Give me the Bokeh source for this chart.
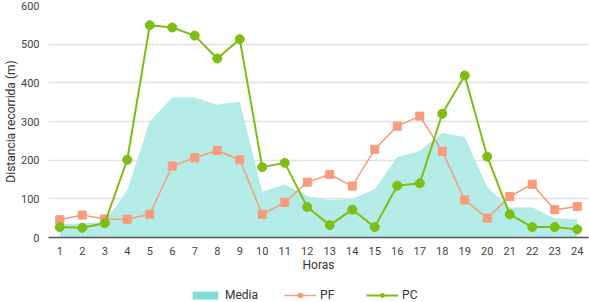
from bokeh.plotting import figure
from bokeh.models import ColumnDataSource, Legend, LegendItem, FixedTicker, Range1d
from bokeh.layouts import column
from bokeh.embed import file_html
from bokeh.resources import INLINE

horas = list(range(1, 25))
media = [35, 36, 40, 122, 300, 362, 362, 343, 352, 118, 138, 107, 97, 100, 125, 208, 224, 270, 260, 130, 77, 78, 49, 48]
pf = [46, 58, 48, 47, 60, 185, 206, 225, 201, 60, 91, 143, 163, 133, 228, 288, 314, 223, 97, 50, 106, 138, 72, 80]
pc = [27, 25, 37, 201, 549, 543, 522, 463, 513, 182, 193, 79, 32, 72, 27, 134, 140, 320, 419, 209, 60, 27, 27, 21]
y_ticks = [0, 100, 200, 300, 400, 500, 600]

src = ColumnDataSource(dict(x=horas, media=media, pf=pf, pc=pc, zero=[0] * len(horas)))

FONT = "Roboto"
AREA = "#b3ebe6"
PF_C = "#f99a7d"
PC_C = "#7dbd14"

p = figure(width=589, height=274, output_backend="svg", toolbar_location=None,
           x_range=Range1d(0.5, 24.5), y_range=Range1d(0, 600),
           min_border_left=20, min_border_right=1, min_border_top=5, min_border_bottom=0)
p.outline_line_color = None

p.varea(x="x", y1="zero", y2="media", source=src, fill_color=AREA)
p.line("x", "pf", source=src, line_color=PF_C, line_width=1.5)
p.scatter("x", "pf", source=src, marker="square", size=8, fill_color=PF_C, line_color=PF_C)
p.line("x", "pc", source=src, line_color=PC_C, line_width=2)
p.scatter("x", "pc", source=src, marker="circle", size=9, fill_color=PC_C, line_color=PC_C)

p.xaxis.ticker = FixedTicker(ticks=horas)
p.yaxis.ticker = FixedTicker(ticks=y_ticks)
p.xaxis.axis_label = "Horas"
p.yaxis.axis_label = "Distancia recorrida (m)"
for ax in (p.xaxis, p.yaxis):
    ax.axis_label_text_font = FONT
    ax.axis_label_text_font_style = "normal"
    ax.axis_label_text_font_size = "12px"
    ax.axis_label_text_color = "#333333"
    ax.major_label_text_font = FONT
    ax.major_label_text_font_size = "11px"
    ax.major_label_text_color = "#444444"
    ax.major_tick_line_color = None
    ax.minor_tick_line_color = None
p.yaxis.axis_line_color = None
p.xaxis.axis_line_color = "#555555"
p.xaxis.axis_line_width = 1.5
p.xaxis.major_label_standoff = 3
p.xaxis.axis_label_standoff = 0
p.yaxis.major_label_standoff = 3
p.yaxis.axis_label_standoff = 0
p.xgrid.grid_line_color = None
p.ygrid.grid_line_color = "#e2e2e2"
p.ygrid.grid_line_width = 1.5

# legend strip
lg = figure(width=589, height=28, output_backend="svg", toolbar_location=None,
            x_range=Range1d(0, 1), y_range=Range1d(0, 1),
            min_border=0, x_axis_location=None, y_axis_location=None)
lg.outline_line_color = None
lg.grid.grid_line_color = None
r_media = lg.varea(x=[5, 6], y1=[5, 5], y2=[6, 6], fill_color="#80dcd6")
r_pf_l = lg.line([5, 6], [5, 6], line_color=PF_C, line_width=1.5)
r_pf_s = lg.scatter([5], [5], marker="square", size=8, fill_color=PF_C, line_color=PF_C)
r_pc_l = lg.line([5, 6], [5, 6], line_color=PC_C, line_width=2)
r_pc_s = lg.scatter([5], [5], marker="circle", size=9, fill_color=PC_C, line_color=PC_C)
legend = Legend(items=[LegendItem(label="Media", renderers=[r_media]),
                       LegendItem(label="PF", renderers=[r_pf_l, r_pf_s]),
                       LegendItem(label="PC", renderers=[r_pc_l, r_pc_s])],
                orientation="horizontal", location=(141, 0),
                label_text_font=FONT, label_text_font_size="12px", label_text_color="#333333",
                glyph_width=32, glyph_height=10, spacing=26, label_standoff=4,
                padding=0, margin=0, border_line_color=None, background_fill_alpha=0)
lg.add_layout(legend, "center")

layout = column(p, lg, spacing=0)
open("out.html", "w").write(file_html(layout, INLINE))
